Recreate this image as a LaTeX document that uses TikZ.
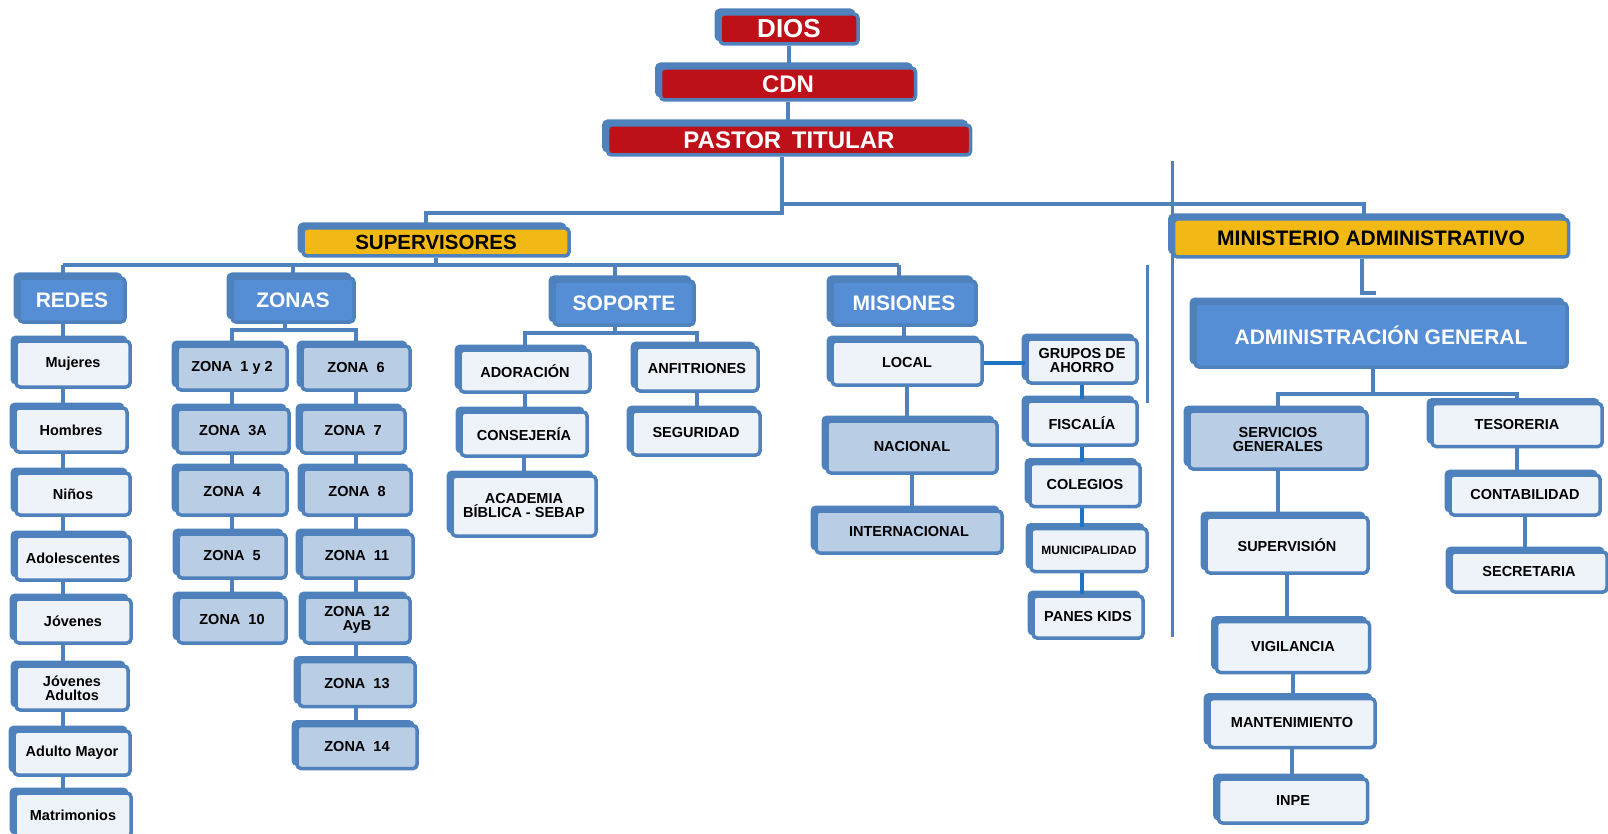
\documentclass[tikz,border=0pt]{standalone}
\usepackage{fontspec}
\setmainfont{Liberation Sans}
\usetikzlibrary{shadows}
\definecolor{bord}{RGB}{79,129,189}
\definecolor{vivid}{RGB}{30,115,195}
\definecolor{rfill}{RGB}{190,16,24}
\definecolor{yfill}{RGB}{242,185,22}
\definecolor{mfill}{RGB}{85,142,213}
\definecolor{lfill}{RGB}{185,205,229}
\definecolor{wfill}{RGB}{238,243,250}
\tikzset{
  base/.style={draw=bord, line width=3.5pt, rounded corners=4pt, inner sep=1pt, align=center,
    font=\bfseries\fontsize{14.5}{14}\selectfont,
    general shadow={fill=bord, draw=bord, line width=3pt, shadow xshift=-4pt, shadow yshift=4pt}},
  wbox/.style={base, fill=wfill, text=black},
  lbox/.style={base, fill=lfill, text=black},
  hbox/.style={base, fill=mfill, text=white, font=\bfseries\fontsize{21}{22}\selectfont},
  rbox/.style={base, fill=rfill, text=white, font=\bfseries\fontsize{24}{26}\selectfont},
  ybox/.style={base, fill=yfill, text=black, font=\bfseries\fontsize{20.5}{22}\selectfont},
  sz/.style 2 args={minimum width=#1pt, minimum height=#2pt},
  conn/.style={draw=bord, line width=4pt},
  vconn/.style={draw=vivid, line width=4pt},
}
\begin{document}
\begin{tikzpicture}[x=1pt,y=-1pt]
\useasboundingbox (0,0) rectangle (1608,834);
% top
\node[rbox, sz={138}{30}, font=\bfseries\fontsize{26}{28}\selectfont] (dios) at (789,29) {DIOS};
\node[rbox, sz={255}{32}] (cdn) at (788,84) {CDN};
\node[rbox, sz={363}{30}] (pastor) at (789,140) {PASTOR\, TITULAR};
\node[ybox, sz={266}{28}] (supervisores) at (436,242) {SUPERVISORES};
\node[ybox, sz={395}{38}, font=\bfseries\fontsize{21}{22}\selectfont] (ministerio) at (1371,238) {MINISTERIO ADMINISTRATIVO};
% level 2
\node[hbox, sz={106}{44}] (redes) at (72,300) {REDES};
\node[hbox, sz={122}{44}] (zonas) at (293,300) {ZONAS};
\node[hbox, sz={140}{44}] (soporte) at (624,303) {SOPORTE};
\node[hbox, sz={144}{44}] (misiones) at (904,303) {MISIONES};
\node[hbox, sz={372}{64}] (admin) at (1381,335) {ADMINISTRACIÓN GENERAL};
% redes
\node[wbox, sz={114}{46}] (mujeres) at (73,364) {Mujeres};
\node[wbox, sz={112}{44}] (hombres) at (71,430) {Hombres};
\node[wbox, sz={114}{42}] (ninos) at (73,494) {Niños};
\node[wbox, sz={114}{44}] (adol) at (73,558) {Adolescentes};
\node[wbox, sz={116}{44}] (jovenes) at (73,621) {Jóvenes};
\node[wbox, sz={112}{44}] (jadultos) at (72,688) {Jóvenes\\Adultos};
\node[wbox, sz={116}{44}] (amayor) at (72,753) {Adulto Mayor};
\node[wbox, sz={116}{44}] (matri) at (73,815) {Matrimonios};
% zonas
\node[lbox, sz={110}{44}] (z12) at (232,368) {ZONA~ 1 y 2};
\node[lbox, sz={112}{44}] (z3a) at (233,431) {ZONA~ 3A};
\node[lbox, sz={110}{46}] (z4) at (232,492) {ZONA~ 4};
\node[lbox, sz={108}{44}] (z5) at (232,556) {ZONA~ 5};
\node[lbox, sz={108}{46}] (z10) at (232,620) {ZONA~ 10};
\node[lbox, sz={108}{44}] (z6) at (356,368) {ZONA~ 6};
\node[lbox, sz={104}{44}] (z7) at (353,431) {ZONA~ 7};
\node[lbox, sz={108}{46}] (z8) at (357,492) {ZONA~ 8};
\node[lbox, sz={112}{44}] (z11) at (357,556) {ZONA~ 11};
\node[lbox, sz={106}{46}] (z12ab) at (357,620) {ZONA~ 12\\AyB};
\node[lbox, sz={116}{45}] (z13) at (357,684) {ZONA~ 13};
\node[lbox, sz={120}{43}] (z14) at (357,747) {ZONA~ 14};
% soporte
\node[wbox, sz={130}{42}] (adoracion) at (525,371) {ADORACIÓN};
\node[wbox, sz={122}{44}] (anfitriones) at (697,369) {ANFITRIONES};
\node[wbox, sz={126}{44}] (consejeria) at (524,434) {CONSEJERÍA};
\node[wbox, sz={128}{44}] (seguridad) at (696,433) {SEGURIDAD};
\node[wbox, sz={144}{60}] (academia) at (524,506) {ACADEMIA\\BÍBLICA - SEBAP};
% misiones
\node[wbox, sz={150}{44}] (local) at (907,363) {LOCAL};
\node[lbox, sz={170}{52}] (nacional) at (912,447) {NACIONAL};
\node[lbox, sz={186}{42}] (internacional) at (909,532) {INTERNACIONAL};
\node[wbox, sz={110}{44}] (grupos) at (1082,361) {GRUPOS DE\\AHORRO};
\node[wbox, sz={110}{44}] (fiscalia) at (1082,423) {FISCALÍA};
\node[wbox, sz={110}{43}] (colegios) at (1085,485) {COLEGIOS};
\node[wbox, sz={116}{43}, font=\bfseries\fontsize{12}{13}\selectfont] (municip) at (1089,550) {MUNICIPALIDAD};
\node[wbox, sz={110}{42}] (panes) at (1088,617) {PANES KIDS};
% administracion
\node[lbox, sz={178}{58}] (servicios) at (1278,440) {SERVICIOS\\GENERALES};
\node[wbox, sz={170}{43}] (tesoreria) at (1517,425) {TESORERIA};
\node[wbox, sz={150}{40}] (contab) at (1525,495) {CONTABILIDAD};
\node[wbox, sz={156}{40}] (secret) at (1529,572) {SECRETARIA};
\node[wbox, sz={162}{56}] (supervision) at (1287,545) {SUPERVISIÓN};
\node[wbox, sz={153}{51}] (vigilancia) at (1293,647) {VIGILANCIA};
\node[wbox, sz={166}{49}] (manten) at (1292,723) {MANTENIMIENTO};
\node[wbox, sz={149}{44}] (inpe) at (1293,801) {INPE};
% connectors top
\draw[conn] (dios.south) -- (dios.south |- cdn.north);
\draw[conn] (cdn.south) -- (cdn.south |- pastor.north);
\coordinate (jL) at (426,213);
\coordinate (jM) at (782,213);
\coordinate (jR0) at (782,204);
\coordinate (jR) at (1364,204);
\draw[conn] (pastor.south -| jM) -- (jM) -- (jL) -- (jL |- supervisores.north);
\draw[conn] (jR0) -- (jR) -- (jR |- ministerio.north);
% separators
\coordinate (s1a) at (1172,161); \coordinate (s1b) at (1172,637);
\coordinate (s2a) at (1147,265); \coordinate (s2b) at (1147,403);
\draw[conn, line width=3pt] (s1a) -- (s1b);
\draw[conn, line width=3pt] (s2a) -- (s2b);
% supervisores bar
\coordinate (bL) at (63,265); \coordinate (bR) at (899,265);
\coordinate (sd) at (615,265);
\draw[conn] (bL) -- (bR);
\draw[conn] (supervisores.south) -- (supervisores.south |- bL);
\draw[conn] (bL) -- (bL |- redes.north);
\draw[conn] (zonas.north |- bL) -- (zonas.north);
\draw[conn] (sd) -- (sd |- soporte.north);
\draw[conn] (bR) -- (bR |- misiones.north);
% redes chain
\foreach \a/\b in {redes/mujeres,mujeres/hombres,hombres/ninos,ninos/adol,adol/jovenes,jovenes/jadultos,jadultos/amayor,amayor/matri}
  \draw[conn] (\a.south -| bL) -- (bL |- \b.north);
% zonas
\coordinate (zb) at (285,330);
\draw[conn] (zonas.south -| zb) -- (zb);
\draw[conn, line cap=rect] (z12.north |- zb) -- (z6.north |- zb);
\draw[conn] (z12.north |- zb) -- (z12.north);
\draw[conn] (z6.north |- zb) -- (z6.north);
\foreach \a/\b in {z12/z3a,z3a/z4,z4/z5,z5/z10}
  \draw[conn] (\a.south -| z12.south) -- (z12.south |- \b.north);
\foreach \a/\b in {z6/z7,z7/z8,z8/z11,z11/z12ab,z12ab/z13,z13/z14}
  \draw[conn] (\a.south -| z6.south) -- (z6.south |- \b.north);
% soporte
\coordinate (sb) at (615,333);
\draw[conn] (soporte.south -| sb) -- (sb);
\draw[conn, line cap=rect] (adoracion.north |- sb) -- (anfitriones.north |- sb);
\draw[conn] (adoracion.north |- sb) -- (adoracion.north);
\draw[conn] (anfitriones.north |- sb) -- (anfitriones.north);
\draw[conn] (adoracion.south) -- (adoracion.south |- consejeria.north);
\draw[conn] (consejeria.south) -- (consejeria.south |- academia.north);
\draw[conn] (anfitriones.south) -- (anfitriones.south |- seguridad.north);
% misiones
\draw[conn] (misiones.south) -- (misiones.south |- local.north);
\draw[conn] (local.south) -- (local.south |- nacional.north);
\draw[conn] (nacional.south) -- (nacional.south |- internacional.north);
\draw[vconn] (local.east) -- (local.east -| grupos.west);
\foreach \a/\b in {grupos/fiscalia,fiscalia/colegios,colegios/municip,municip/panes}
  \draw[vconn] (\a.south -| grupos.south) -- (grupos.south |- \b.north);
% administracion
\coordinate (mj) at (1362,293);
\coordinate (mk) at (1376,293);
\draw[conn] (ministerio.south -| mj) -- (mj) -- (mk);
\coordinate (ab) at (1373,394);
\draw[conn] (admin.south -| ab) -- (ab);
\draw[conn, line cap=rect] (servicios.north |- ab) -- (tesoreria.north |- ab);
\draw[conn] (servicios.north |- ab) -- (servicios.north);
\draw[conn] (tesoreria.north |- ab) -- (tesoreria.north);
\draw[conn] (servicios.south) -- (servicios.south |- supervision.north);
\draw[conn] (supervision.south) -- (supervision.south |- vigilancia.north);
\draw[conn] (vigilancia.south) -- (vigilancia.south |- manten.north);
\draw[conn] (manten.south) -- (manten.south |- inpe.north);
\draw[conn] (tesoreria.south) -- (tesoreria.south |- contab.north);
\draw[conn] (contab.south) -- (contab.south |- secret.north);
\end{tikzpicture}
\end{document}
